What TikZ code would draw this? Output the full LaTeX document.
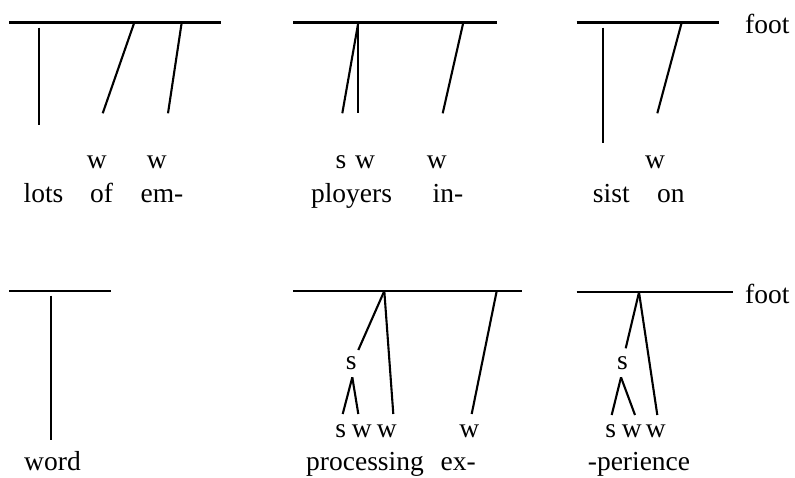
\documentclass[tikz,border=0pt]{standalone}
\usepackage{fontspec}
\setmainfont{Liberation Serif}
\begin{document}
\begin{tikzpicture}[x=1pt,y=-1pt,
  ln/.style={line width=2.1pt,black},
  lab/.style={inner sep=0pt,anchor=base,font=\fontsize{27.5}{32}\selectfont},
  labw/.style={inner sep=0pt,anchor=base west,font=\fontsize{27.5}{32}\selectfont}]
\useasboundingbox (0,0) rectangle (795,477);
% ---------- top row ----------
% panel 1
\coordinate (a1) at (9.3,22.5); \coordinate (a2) at (221,22.5);
\coordinate (a3) at (39,27.7);  \coordinate (a4) at (39,125);
\coordinate (a5) at (134.3,22.5); \coordinate (a6) at (102.7,113.3);
\coordinate (a7) at (181.7,22.5); \coordinate (a8) at (168,113.3);
\draw[ln] (a1) -- (a2);
\draw[ln] (a3) -- (a4);
\draw[ln] (a5) -- (a6);
\draw[ln] (a7) -- (a8);
\node[lab] (aw1) at (96.7,168.3) {w};
\node[lab] (aw2) at (156.7,168.3) {w};
\node[lab] (at1) at (43.5,202.7) {lots};
\node[lab] (at2) at (101.5,202.7) {of};
\node[lab] (at3) at (162,202.7) {em-};
% panel 2
\coordinate (b1) at (293.3,22.5); \coordinate (b2) at (496.7,22.5);
\coordinate (b3) at (358.3,22.5); \coordinate (b4) at (358.3,113.3);
\coordinate (b5) at (342.3,113.3);
\coordinate (b6) at (463.3,22.5); \coordinate (b7) at (442.7,113.3);
\draw[ln] (b1) -- (b2);
\draw[ln] (b3) -- (b4);
\draw[ln] (b3) -- (b5);
\draw[ln] (b6) -- (b7);
\node[lab] (bs1) at (341,168.3) {s};
\node[lab] (bw1) at (365,168.3) {w};
\node[lab] (bw2) at (436.7,168.3) {w};
\node[lab] (bt1) at (351.5,202.7) {ployers};
\node[lab] (bt2) at (448,202.7) {in-};
% panel 3
\coordinate (c1) at (576.7,22.5); \coordinate (c2) at (718.7,22.5);
\coordinate (c3) at (603.3,27.7); \coordinate (c4) at (603.3,143.3);
\coordinate (c5) at (681.7,22.5); \coordinate (c6) at (657.3,113.3);
\draw[ln] (c1) -- (c2);
\draw[ln] (c3) -- (c4);
\draw[ln] (c5) -- (c6);
\node[labw] (cfoot) at (745,33.3) {foot};
\node[lab] (cw1) at (655,168.3) {w};
\node[lab] (ct1) at (611.3,202.7) {sist};
\node[lab] (ct2) at (670.8,202.7) {on};
% ---------- bottom row ----------
% panel 4
\coordinate (d1) at (9.3,291.3); \coordinate (d2) at (111,291.3);
\coordinate (d3) at (51,295.7); \coordinate (d4) at (51,440);
\draw[ln] (d1) -- (d2);
\draw[ln] (d3) -- (d4);
\node[lab] (dt1) at (52.5,470) {word};
% panel 5
\coordinate (e1) at (293.3,291); \coordinate (e2) at (521.7,291);
\coordinate (eap) at (384.3,291);
\coordinate (e3) at (358.3,350);
\coordinate (e4) at (352.3,377.3);
\coordinate (e5) at (342.7,414); \coordinate (e6) at (358.3,414);
\coordinate (e7) at (393.3,414);
\coordinate (e8) at (496.7,291); \coordinate (e9) at (471.7,414);
\draw[ln] (e1) -- (e2);
\draw[ln] (eap) -- (e3);
\draw[ln] (e4) -- (e5);
\draw[ln] (e4) -- (e6);
\draw[ln] (eap) -- (e7);
\draw[ln] (e8) -- (e9);
\node[lab] (es0) at (351.3,369) {s};
\node[lab] (es1) at (340.8,437.7) {s};
\node[lab] (ew1) at (361.7,437.7) {w};
\node[lab] (ew2) at (386.7,437.7) {w};
\node[lab] (ew3) at (469.2,437.7) {w};
\node[lab] (et1) at (365,470) {processing};
\node[lab] (et2) at (458.3,470) {ex-};
% panel 6
\coordinate (f1) at (576.7,292.3); \coordinate (f2) at (732.7,292.3);
\coordinate (fap) at (639,292.3);
\coordinate (f3) at (625.7,348.3);
\coordinate (f4) at (621,377.3);
\coordinate (f5) at (611.7,415); \coordinate (f6) at (635,415);
\coordinate (f7) at (657.3,415);
\draw[ln] (f1) -- (f2);
\draw[ln] (fap) -- (f3);
\draw[ln] (f4) -- (f5);
\draw[ln] (f4) -- (f6);
\draw[ln] (fap) -- (f7);
\node[labw] (ffoot) at (745,303.3) {foot};
\node[lab] (fs0) at (622.5,369) {s};
\node[lab] (fs1) at (610.8,437.7) {s};
\node[lab] (fw1) at (631.7,437.7) {w};
\node[lab] (fw2) at (655.8,437.7) {w};
\node[lab] (ft1) at (639,470) {-perience};
\end{tikzpicture}
\end{document}
